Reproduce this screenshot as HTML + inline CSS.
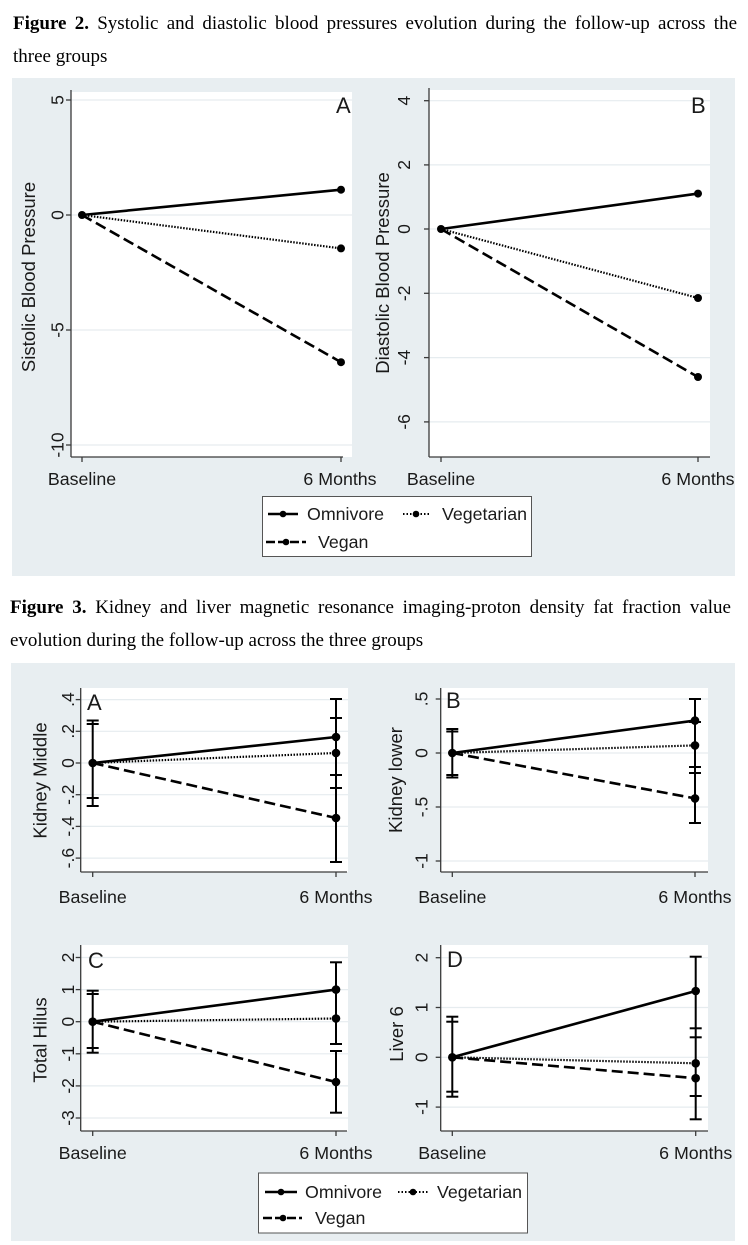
<!DOCTYPE html>
<html><head><meta charset="utf-8">
<style>
html,body{margin:0;padding:0;background:#fff;}
body{width:748px;height:1245px;position:relative;overflow:hidden;}
.cap{position:absolute;font-family:"Liberation Serif",serif;font-size:19px;line-height:33px;color:#000;}
.just{text-align:justify;text-align-last:justify;white-space:nowrap;}
svg{position:absolute;left:0;top:0;}
</style></head><body>
<svg width="748" height="1245" viewBox="0 0 748 1245" xmlns="http://www.w3.org/2000/svg" font-family="Liberation Sans, sans-serif" fill="#1a1a1a">
<!-- Fig 2 background -->
<rect x="12" y="78" width="723" height="498" fill="#e8eef1"/>
<!-- Fig 3 background -->
<rect x="11" y="663" width="724" height="578" fill="#e8eef1"/>

<!-- ===== Fig2 A ===== -->
<rect x="71" y="92" width="281" height="365" fill="#fff"/>
<g stroke="#e6ecef" stroke-width="1.2">
<line x1="71" y1="100" x2="352" y2="100"/><line x1="71" y1="215" x2="352" y2="215"/><line x1="71" y1="330" x2="352" y2="330"/><line x1="71" y1="445" x2="352" y2="445"/>
</g>
<g stroke="#3a3a3a" stroke-width="1.3">
<line x1="71" y1="90" x2="71" y2="457"/><line x1="71" y1="457" x2="343" y2="457"/>
<line x1="66" y1="100" x2="71" y2="100"/><line x1="66" y1="215" x2="71" y2="215"/><line x1="66" y1="330" x2="71" y2="330"/><line x1="66" y1="445" x2="71" y2="445"/>
<line x1="82" y1="457" x2="82" y2="462"/><line x1="341" y1="457" x2="341" y2="462"/>
</g>
<g font-size="17.5" text-anchor="middle">
<text transform="translate(63.5,100) rotate(-90)">5</text>
<text transform="translate(63.5,215) rotate(-90)">0</text>
<text transform="translate(63.5,330) rotate(-90)">-5</text>
<text transform="translate(63.5,445) rotate(-90)">-10</text>
</g>
<text transform="translate(35,277) rotate(-90)" font-size="18.5" text-anchor="middle">Sistolic Blood Pressure</text>
<text x="82" y="485" font-size="17.8" text-anchor="middle">Baseline</text>
<text x="340" y="485" font-size="17.8" text-anchor="middle">6 Months</text>
<text x="336" y="113" font-size="22">A</text>
<g fill="none" stroke="#000">
<line x1="82" y1="215" x2="341" y2="189.7" stroke-width="2.6"/>
<line x1="82" y1="215" x2="341" y2="248.4" stroke-width="2.2" stroke-dasharray="1.5 1.5"/>
<line x1="82" y1="215" x2="341" y2="362.2" stroke-width="2.6" stroke-dasharray="11 5"/>
</g>
<g fill="#000"><circle cx="82" cy="215" r="4"/><circle cx="341" cy="189.7" r="4"/><circle cx="341" cy="248.4" r="4"/><circle cx="341" cy="362.2" r="4"/></g>

<!-- ===== Fig2 B ===== -->
<rect x="429" y="90" width="281" height="367" fill="#fff"/>
<g stroke="#e6ecef" stroke-width="1.2">
<line x1="429" y1="100.7" x2="710" y2="100.7"/><line x1="429" y1="164.9" x2="710" y2="164.9"/><line x1="429" y1="229" x2="710" y2="229"/><line x1="429" y1="293.3" x2="710" y2="293.3"/><line x1="429" y1="357.6" x2="710" y2="357.6"/><line x1="429" y1="421.9" x2="710" y2="421.9"/>
</g>
<g stroke="#3a3a3a" stroke-width="1.3">
<line x1="429" y1="88" x2="429" y2="457"/><line x1="429" y1="457" x2="710" y2="457"/>
<line x1="424" y1="100.7" x2="429" y2="100.7"/><line x1="424" y1="164.9" x2="429" y2="164.9"/><line x1="424" y1="229" x2="429" y2="229"/><line x1="424" y1="293.3" x2="429" y2="293.3"/><line x1="424" y1="357.6" x2="429" y2="357.6"/><line x1="424" y1="421.9" x2="429" y2="421.9"/>
<line x1="441" y1="457" x2="441" y2="462"/><line x1="698" y1="457" x2="698" y2="462"/>
</g>
<g font-size="17.5" text-anchor="middle">
<text transform="translate(410,100.7) rotate(-90)">4</text>
<text transform="translate(410,164.9) rotate(-90)">2</text>
<text transform="translate(410,229) rotate(-90)">0</text>
<text transform="translate(410,293.3) rotate(-90)">-2</text>
<text transform="translate(410,357.6) rotate(-90)">-4</text>
<text transform="translate(410,421.9) rotate(-90)">-6</text>
</g>
<text transform="translate(389,273) rotate(-90)" font-size="18.5" text-anchor="middle">Diastolic Blood Pressure</text>
<text x="441" y="485" font-size="17.8" text-anchor="middle">Baseline</text>
<text x="698" y="485" font-size="17.8" text-anchor="middle">6 Months</text>
<text x="691" y="113" font-size="22">B</text>
<g fill="none" stroke="#000">
<line x1="441" y1="229" x2="698" y2="193.6" stroke-width="2.6"/>
<line x1="441" y1="229" x2="698" y2="298" stroke-width="2.2" stroke-dasharray="1.5 1.5"/>
<line x1="441" y1="229" x2="698" y2="377" stroke-width="2.6" stroke-dasharray="11 5"/>
</g>
<g fill="#000"><circle cx="441" cy="229" r="4"/><circle cx="698" cy="193.6" r="4"/><circle cx="698" cy="298" r="4"/><circle cx="698" cy="377" r="4"/></g>

<!-- Fig2 legend -->
<rect x="262.5" y="496.5" width="269" height="60" fill="#fff" stroke="#555" stroke-width="1"/>
<g stroke="#000" fill="none">
<line x1="268" y1="514" x2="298" y2="514" stroke-width="2.4"/>
<line x1="403" y1="514" x2="430" y2="514" stroke-width="2" stroke-dasharray="1.5 2"/>
<line x1="266" y1="542" x2="306" y2="542" stroke-width="2.4" stroke-dasharray="9 3"/>
</g>
<g fill="#000"><circle cx="283" cy="514" r="3.3"/><circle cx="416" cy="514" r="3.3"/><circle cx="286" cy="542" r="3.3"/></g>
<g font-size="17.8">
<text x="307" y="520">Omnivore</text>
<text x="442" y="520">Vegetarian</text>
<text x="318" y="548">Vegan</text>
</g>

<!-- ===== Fig3 A ===== -->
<rect x="80.7" y="688" width="267.3" height="184" fill="#fff"/>
<g stroke="#e6ecef" stroke-width="1.2">
<line x1="80.7" y1="699.6" x2="348" y2="699.6"/><line x1="80.7" y1="731.3" x2="348" y2="731.3"/><line x1="80.7" y1="763" x2="348" y2="763"/><line x1="80.7" y1="794.7" x2="348" y2="794.7"/><line x1="80.7" y1="826.4" x2="348" y2="826.4"/><line x1="80.7" y1="858.1" x2="348" y2="858.1"/>
</g>
<g stroke="#3a3a3a" stroke-width="1.3">
<line x1="80.7" y1="688" x2="80.7" y2="872"/><line x1="80.7" y1="872" x2="347" y2="872"/>
<line x1="75.7" y1="699.6" x2="80.7" y2="699.6"/><line x1="75.7" y1="731.3" x2="80.7" y2="731.3"/><line x1="75.7" y1="763" x2="80.7" y2="763"/><line x1="75.7" y1="794.7" x2="80.7" y2="794.7"/><line x1="75.7" y1="826.4" x2="80.7" y2="826.4"/><line x1="75.7" y1="858.1" x2="80.7" y2="858.1"/>
<line x1="92.7" y1="872" x2="92.7" y2="877"/><line x1="336" y1="872" x2="336" y2="877"/>
</g>
<g font-size="17.5" text-anchor="middle">
<text transform="translate(74,699.6) rotate(-90)">.4</text>
<text transform="translate(74,731.3) rotate(-90)">.2</text>
<text transform="translate(74,763) rotate(-90)">0</text>
<text transform="translate(74,794.7) rotate(-90)">-.2</text>
<text transform="translate(74,826.4) rotate(-90)">-.4</text>
<text transform="translate(74,858.1) rotate(-90)">-.6</text>
</g>
<text transform="translate(46.5,780.5) rotate(-90)" font-size="18.5" text-anchor="middle">Kidney Middle</text>
<text x="92.7" y="903" font-size="17.8" text-anchor="middle">Baseline</text>
<text x="336" y="903" font-size="17.8" text-anchor="middle">6 Months</text>
<text x="87" y="710" font-size="22">A</text>
<g stroke="#000" stroke-width="2">
<line x1="92.7" y1="720.5" x2="92.7" y2="806"/>
<line x1="86.7" y1="720.5" x2="98.7" y2="720.5"/><line x1="86.7" y1="724" x2="98.7" y2="724"/><line x1="86.7" y1="798" x2="98.7" y2="798"/><line x1="86.7" y1="806" x2="98.7" y2="806"/>
<line x1="336" y1="699" x2="336" y2="862"/>
<line x1="330" y1="699" x2="342" y2="699"/><line x1="330" y1="718" x2="342" y2="718"/><line x1="330" y1="775" x2="342" y2="775"/><line x1="330" y1="788" x2="342" y2="788"/><line x1="330" y1="862" x2="342" y2="862"/>
</g>
<g fill="none" stroke="#000">
<line x1="92.7" y1="763" x2="336" y2="737" stroke-width="2.6"/>
<line x1="92.7" y1="763" x2="336" y2="753" stroke-width="2.2" stroke-dasharray="1.5 1.5"/>
<line x1="92.7" y1="763" x2="336" y2="818" stroke-width="2.6" stroke-dasharray="11 5"/>
</g>
<g fill="#000"><circle cx="92.7" cy="763" r="4.3"/><circle cx="336" cy="737" r="4.3"/><circle cx="336" cy="753" r="4.3"/><circle cx="336" cy="818" r="4.3"/></g>

<!-- ===== Fig3 B ===== -->
<rect x="440.7" y="688" width="267.3" height="184" fill="#fff"/>
<g stroke="#e6ecef" stroke-width="1.2">
<line x1="440.7" y1="699" x2="708" y2="699"/><line x1="440.7" y1="753" x2="708" y2="753"/><line x1="440.7" y1="807" x2="708" y2="807"/><line x1="440.7" y1="861" x2="708" y2="861"/>
</g>
<g stroke="#3a3a3a" stroke-width="1.3">
<line x1="440.7" y1="688" x2="440.7" y2="872"/><line x1="440.7" y1="872" x2="708" y2="872"/>
<line x1="435.7" y1="699" x2="440.7" y2="699"/><line x1="435.7" y1="753" x2="440.7" y2="753"/><line x1="435.7" y1="807" x2="440.7" y2="807"/><line x1="435.7" y1="861" x2="440.7" y2="861"/>
<line x1="452.3" y1="872" x2="452.3" y2="877"/><line x1="695" y1="872" x2="695" y2="877"/>
</g>
<g font-size="17.5" text-anchor="middle">
<text transform="translate(427.5,699) rotate(-90)">.5</text>
<text transform="translate(427.5,753) rotate(-90)">0</text>
<text transform="translate(427.5,807) rotate(-90)">-.5</text>
<text transform="translate(427.5,861) rotate(-90)">-1</text>
</g>
<text transform="translate(402,780) rotate(-90)" font-size="18.5" text-anchor="middle">Kidney lower</text>
<text x="452.3" y="903" font-size="17.8" text-anchor="middle">Baseline</text>
<text x="695" y="903" font-size="17.8" text-anchor="middle">6 Months</text>
<text x="446" y="708" font-size="22">B</text>
<g stroke="#000" stroke-width="2">
<line x1="452.3" y1="729" x2="452.3" y2="777"/>
<line x1="446.3" y1="729" x2="458.3" y2="729"/><line x1="446.3" y1="731.5" x2="458.3" y2="731.5"/><line x1="446.3" y1="775" x2="458.3" y2="775"/><line x1="446.3" y1="777.5" x2="458.3" y2="777.5"/>
<line x1="695" y1="699" x2="695" y2="823"/>
<line x1="689" y1="699" x2="701" y2="699"/><line x1="689" y1="722" x2="701" y2="722"/><line x1="689" y1="767" x2="701" y2="767"/><line x1="689" y1="773" x2="701" y2="773"/><line x1="689" y1="823" x2="701" y2="823"/>
</g>
<g fill="none" stroke="#000">
<line x1="452.3" y1="753" x2="695" y2="720.6" stroke-width="2.6"/>
<line x1="452.3" y1="753" x2="695" y2="745.4" stroke-width="2.2" stroke-dasharray="1.5 1.5"/>
<line x1="452.3" y1="753" x2="695" y2="798.4" stroke-width="2.6" stroke-dasharray="11 5"/>
</g>
<g fill="#000"><circle cx="452.3" cy="753" r="4.3"/><circle cx="695" cy="720.6" r="4.3"/><circle cx="695" cy="745.4" r="4.3"/><circle cx="695" cy="798.4" r="4.3"/></g>

<!-- ===== Fig3 C ===== -->
<rect x="80.7" y="945" width="267.3" height="186" fill="#fff"/>
<g stroke="#e6ecef" stroke-width="1.2">
<line x1="80.7" y1="957.5" x2="348" y2="957.5"/><line x1="80.7" y1="989.6" x2="348" y2="989.6"/><line x1="80.7" y1="1021.7" x2="348" y2="1021.7"/><line x1="80.7" y1="1053.8" x2="348" y2="1053.8"/><line x1="80.7" y1="1085.9" x2="348" y2="1085.9"/><line x1="80.7" y1="1118" x2="348" y2="1118"/>
</g>
<g stroke="#3a3a3a" stroke-width="1.3">
<line x1="80.7" y1="945" x2="80.7" y2="1131"/><line x1="80.7" y1="1131" x2="347" y2="1131"/>
<line x1="75.7" y1="957.5" x2="80.7" y2="957.5"/><line x1="75.7" y1="989.6" x2="80.7" y2="989.6"/><line x1="75.7" y1="1021.7" x2="80.7" y2="1021.7"/><line x1="75.7" y1="1053.8" x2="80.7" y2="1053.8"/><line x1="75.7" y1="1085.9" x2="80.7" y2="1085.9"/><line x1="75.7" y1="1118" x2="80.7" y2="1118"/>
<line x1="92.7" y1="1131" x2="92.7" y2="1136"/><line x1="336" y1="1131" x2="336" y2="1136"/>
</g>
<g font-size="17.5" text-anchor="middle">
<text transform="translate(74,957.5) rotate(-90)">2</text>
<text transform="translate(74,989.6) rotate(-90)">1</text>
<text transform="translate(74,1021.7) rotate(-90)">0</text>
<text transform="translate(74,1053.8) rotate(-90)">-1</text>
<text transform="translate(74,1085.9) rotate(-90)">-2</text>
<text transform="translate(74,1118) rotate(-90)">-3</text>
</g>
<text transform="translate(46.5,1040) rotate(-90)" font-size="18.5" text-anchor="middle">Total Hilus</text>
<text x="92.7" y="1159" font-size="17.8" text-anchor="middle">Baseline</text>
<text x="336" y="1159" font-size="17.8" text-anchor="middle">6 Months</text>
<text x="88" y="968" font-size="22">C</text>
<g stroke="#000" stroke-width="2">
<line x1="92.7" y1="990.7" x2="92.7" y2="1052.7"/>
<line x1="86.7" y1="990.7" x2="98.7" y2="990.7"/><line x1="86.7" y1="994" x2="98.7" y2="994"/><line x1="86.7" y1="1048" x2="98.7" y2="1048"/><line x1="86.7" y1="1052.7" x2="98.7" y2="1052.7"/>
<line x1="336" y1="962.3" x2="336" y2="1044"/><line x1="336" y1="1051" x2="336" y2="1112.7"/>
<line x1="330" y1="962.3" x2="342" y2="962.3"/><line x1="330" y1="1044" x2="342" y2="1044"/><line x1="330" y1="1051" x2="342" y2="1051"/><line x1="330" y1="1112.7" x2="342" y2="1112.7"/>
</g>
<g fill="none" stroke="#000">
<line x1="92.7" y1="1021.7" x2="336" y2="989.6" stroke-width="2.6"/>
<line x1="92.7" y1="1021.7" x2="336" y2="1018.5" stroke-width="2.2" stroke-dasharray="1.5 1.5"/>
<line x1="92.7" y1="1021.7" x2="336" y2="1082" stroke-width="2.6" stroke-dasharray="11 5"/>
</g>
<g fill="#000"><circle cx="92.7" cy="1021.7" r="4.3"/><circle cx="336" cy="989.6" r="4.3"/><circle cx="336" cy="1018.5" r="4.3"/><circle cx="336" cy="1082" r="4.3"/></g>

<!-- ===== Fig3 D ===== -->
<rect x="440.7" y="945" width="267.3" height="186" fill="#fff"/>
<g stroke="#e6ecef" stroke-width="1.2">
<line x1="440.7" y1="957.7" x2="708" y2="957.7"/><line x1="440.7" y1="1007.5" x2="708" y2="1007.5"/><line x1="440.7" y1="1057.3" x2="708" y2="1057.3"/><line x1="440.7" y1="1107.1" x2="708" y2="1107.1"/>
</g>
<g stroke="#3a3a3a" stroke-width="1.3">
<line x1="440.7" y1="945" x2="440.7" y2="1131"/><line x1="440.7" y1="1131" x2="708" y2="1131"/>
<line x1="435.7" y1="957.7" x2="440.7" y2="957.7"/><line x1="435.7" y1="1007.5" x2="440.7" y2="1007.5"/><line x1="435.7" y1="1057.3" x2="440.7" y2="1057.3"/><line x1="435.7" y1="1107.1" x2="440.7" y2="1107.1"/>
<line x1="452.3" y1="1131" x2="452.3" y2="1136"/><line x1="695.7" y1="1131" x2="695.7" y2="1136"/>
</g>
<g font-size="17.5" text-anchor="middle">
<text transform="translate(427.5,957.7) rotate(-90)">2</text>
<text transform="translate(427.5,1007.5) rotate(-90)">1</text>
<text transform="translate(427.5,1057.3) rotate(-90)">0</text>
<text transform="translate(427.5,1107.1) rotate(-90)">-1</text>
</g>
<text transform="translate(403,1034) rotate(-90)" font-size="18.5" text-anchor="middle">Liver 6</text>
<text x="452.3" y="1159" font-size="17.8" text-anchor="middle">Baseline</text>
<text x="695.7" y="1159" font-size="17.8" text-anchor="middle">6 Months</text>
<text x="447" y="967" font-size="22">D</text>
<g stroke="#000" stroke-width="2">
<line x1="452.3" y1="1016.7" x2="452.3" y2="1096.7"/>
<line x1="446.3" y1="1016.7" x2="458.3" y2="1016.7"/><line x1="446.3" y1="1021.7" x2="458.3" y2="1021.7"/><line x1="446.3" y1="1091.7" x2="458.3" y2="1091.7"/><line x1="446.3" y1="1096.7" x2="458.3" y2="1096.7"/>
<line x1="695.7" y1="956.7" x2="695.7" y2="1119.3"/>
<line x1="689.7" y1="956.7" x2="701.7" y2="956.7"/><line x1="689.7" y1="1028.3" x2="701.7" y2="1028.3"/><line x1="689.7" y1="1037.3" x2="701.7" y2="1037.3"/><line x1="689.7" y1="1096" x2="701.7" y2="1096"/><line x1="689.7" y1="1119.3" x2="701.7" y2="1119.3"/>
</g>
<g fill="none" stroke="#000">
<line x1="452.3" y1="1057.3" x2="695.7" y2="991" stroke-width="2.6"/>
<line x1="452.3" y1="1057.3" x2="695.7" y2="1063.3" stroke-width="2.2" stroke-dasharray="1.5 1.5"/>
<line x1="452.3" y1="1057.3" x2="695.7" y2="1078.2" stroke-width="2.6" stroke-dasharray="11 5"/>
</g>
<g fill="#000"><circle cx="452.3" cy="1057.3" r="4.3"/><circle cx="695.7" cy="991" r="4.3"/><circle cx="695.7" cy="1063.3" r="4.3"/><circle cx="695.7" cy="1078.2" r="4.3"/></g>

<!-- Fig3 legend -->
<rect x="258.5" y="1173" width="269" height="60" fill="#fff" stroke="#555" stroke-width="1"/>
<g stroke="#000" fill="none">
<line x1="265" y1="1192" x2="297" y2="1192" stroke-width="2.4"/>
<line x1="398" y1="1192" x2="428" y2="1192" stroke-width="2" stroke-dasharray="1.5 2"/>
<line x1="263" y1="1218" x2="302" y2="1218" stroke-width="2.4" stroke-dasharray="9 3"/>
</g>
<g fill="#000"><circle cx="281" cy="1192" r="3.3"/><circle cx="413" cy="1192" r="3.3"/><circle cx="283" cy="1218" r="3.3"/></g>
<g font-size="17.8">
<text x="305" y="1198">Omnivore</text>
<text x="437" y="1198">Vegetarian</text>
<text x="315" y="1224">Vegan</text>
</g>
</svg>

<div class="cap just" style="left:13px;top:7px;width:724px;"><b>Figure 2.</b> Systolic and diastolic blood pressures evolution during the follow-up across the</div>
<div class="cap" style="left:13px;top:40px;">three groups</div>
<div class="cap just" style="left:10px;top:591px;width:721px;"><b>Figure 3.</b> Kidney and liver magnetic resonance imaging-proton density fat fraction value</div>
<div class="cap" style="left:10px;top:624px;">evolution during the follow-up across the three groups</div>
</body></html>
